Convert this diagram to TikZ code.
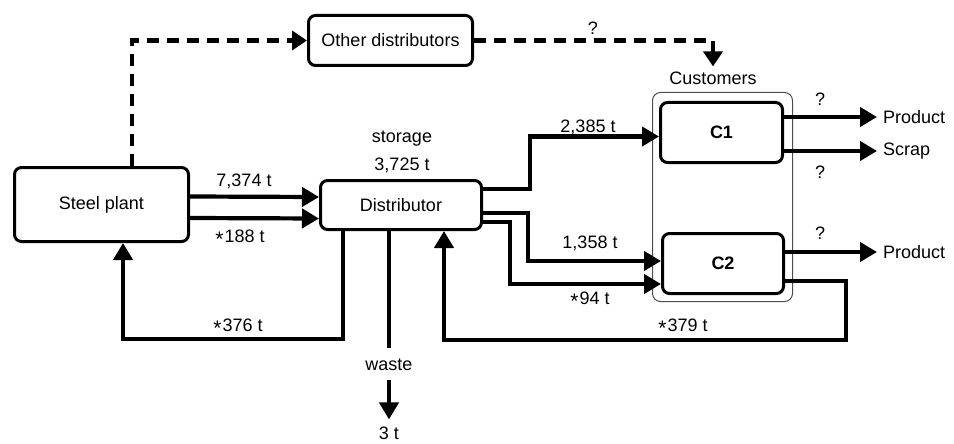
\documentclass[tikz,border=0pt]{standalone}
\usepackage{fontspec}
\setmainfont{Liberation Sans}
\usetikzlibrary{arrows.meta}
\newcommand{\mystar}{\raisebox{-4.5pt}{\fontsize{21}{21}\selectfont *}\hspace{1pt}}
\begin{document}
\begin{tikzpicture}[x=1pt,y=-1pt,
  box/.style={draw, line width=3pt, rounded corners=7pt, inner sep=0pt, font=\fontsize{18}{20}\selectfont},
  flow/.style={line width=4.2pt, -{Triangle[length=17pt,width=19pt]}},
  plainline/.style={line width=4.2pt},
  dashflow/.style={line width=4.2pt, dash pattern=on 12pt off 8pt, -{Triangle[length=15pt,width=19pt]}},
  lbl/.style={font=\fontsize{18}{20}\selectfont, inner sep=1pt}]
\useasboundingbox (0,0) rectangle (954,444);
% customers group
\node[draw=black!70, line width=1pt, rounded corners=8pt, minimum width=140pt, minimum height=209pt, inner sep=0pt] (cust) at (722.5,197) {};
\node[lbl] (custlbl) at (713,78) {Customers};
% boxes
\node[box, minimum width=174pt, minimum height=74pt] (steel) at (101.5,204.5) {Steel plant};
\node[box, minimum width=161pt, minimum height=49pt] (dist) at (401,205) {Distributor};
\node[box, minimum width=164pt, minimum height=50pt] (other) at (390.5,40.5) {Other distributors};
\node[box, minimum width=122pt, minimum height=60pt, font=\fontsize{18}{20}\selectfont\bfseries] (c1) at (721.5,132.5) {C1};
\node[box, minimum width=121pt, minimum height=60pt, font=\fontsize{18}{20}\selectfont\bfseries] (c2) at (723,263.5) {C2};
% text nodes
\node[lbl, anchor=west, inner xsep=6pt] (prod1) at (877,117) {Product};
\node[lbl, anchor=west, inner xsep=6pt] (scrap) at (877,151) {Scrap};
\node[lbl, anchor=west, inner xsep=6pt] (prod2) at (877,252) {Product};
\node[lbl] (waste) at (389,365) {waste};
\node[lbl] (three) at (389,433) {3 t};
% dashed flows
\draw[dashflow] ([xshift=30.5pt]steel.north) |- (other.west);
\draw[dashflow] (other.east) -| ([yshift=4pt]custlbl.north);
\node[lbl] at (593,28) {?};
% steel -> distributor
\draw[flow] ([yshift=8pt]steel.east) -- ([yshift=8pt]dist.west);
\draw[flow] ([yshift=-13.5pt]steel.east) -- ([yshift=-13.5pt]dist.west);
\node[lbl] at (244,181) {7,374 t};
\node[lbl] at (240,238) {\mystar188 t};
\node[lbl] (storage) at (402,139) {storage};
\node[lbl] (stock) at (402,165) {3,725 t};
% distributor -> customers
\draw[flow] ([yshift=16pt]dist.east) -- ++(47,0) |- ([yshift=-4pt]c1.west);
\draw[flow] ([yshift=-8pt]dist.east) -- ++(45,0) |- ([yshift=2.5pt]c2.west);
\draw[flow] ([yshift=-17pt]dist.east) -- ++(27,0) |- ([yshift=-20.5pt]c2.west);
\node[lbl] at (588,127) {2,385 t};
\node[lbl] at (590,243) {1,358 t};
\node[lbl] at (590,300) {\mystar94 t};
% customer outputs
\draw[flow] ([yshift=15.5pt]c1.east) -- (prod1.west);
\draw[flow] ([yshift=-18.5pt]c1.east) -- (scrap.west);
\draw[flow] ([yshift=11.5pt]c2.east) -- (prod2.west);
\node[lbl] at (820,99) {?};
\node[lbl] at (820,172) {?};
\node[lbl] at (820,233) {?};
% returns
\draw[flow] ([yshift=-17.5pt]c2.east) -- ++(61,0) -- ++(0,59) -| ([xshift=43pt]dist.south);
\node[lbl] at (683,327) {\mystar379 t};
\draw[flow] ([xshift=-58pt]dist.south) -- ++(0,108) -| ([xshift=21.5pt]steel.south);
\node[lbl] at (238,327) {\mystar376 t};
% waste
\draw[plainline] ([xshift=-12pt]dist.south) -- ([yshift=10pt]waste.north);
\draw[flow] ([yshift=-8pt]waste.south) -- ([yshift=6pt]three.north);
\end{tikzpicture}
\end{document}
